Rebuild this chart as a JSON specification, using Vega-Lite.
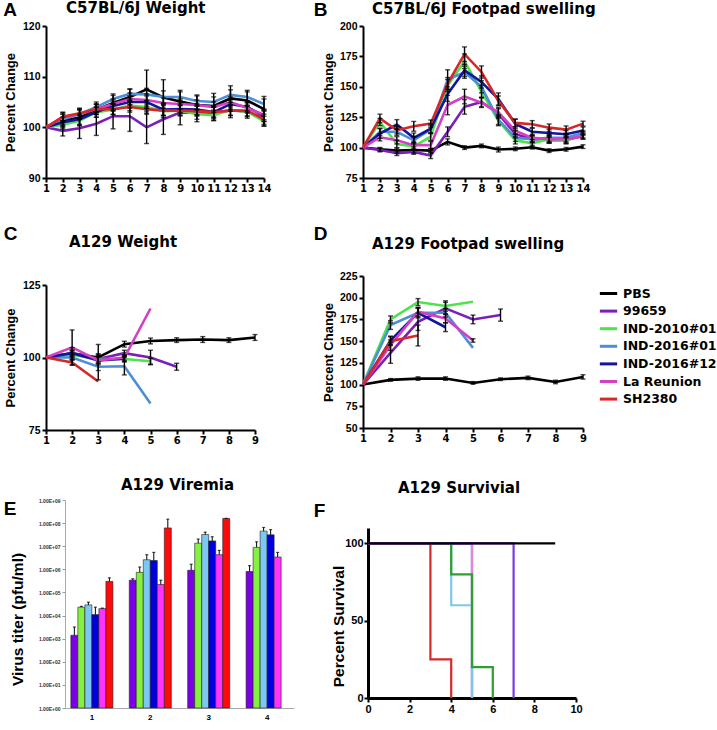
{
  "$schema": "https://vega.github.io/schema/vega-lite/v6.json",
  "background": "white",
  "padding": {"left": 2, "top": 0, "right": 0, "bottom": 0},
  "columns": 2,
  "spacing": {"row": 70, "column": 20},
  "align": "none",
  "bounds": "flush",
  "resolve": {"scale": {"color": "independent"}, "legend": {"color": "independent"}},
  "config": {
    "font": "Liberation Sans",
    "view": {"stroke": null},
    "axis": {"labelFont": "Liberation Sans", "titleFont": "Liberation Sans", "labelFontWeight": "bold", "titleFontWeight": "bold", "grid": false, "domainColor": "black", "tickColor": "black", "labelColor": "black", "titleColor": "black", "labelFlush": false, "labelOverlap": false},
    "title": {"font": "DejaVu Sans", "fontWeight": "bold", "fontSize": 15, "anchor": "start", "frame": "group", "color": "black"}
  },
  "datasets": {
    "A": [
      {"s":"PBS","d":1,"v":100,"e":0},{"s":"PBS","d":2,"v":101.4,"e":1.2},{"s":"PBS","d":3,"v":101.9,"e":1.5},{"s":"PBS","d":4,"v":103.5,"e":1},{"s":"PBS","d":5,"v":104.8,"e":1.5},{"s":"PBS","d":6,"v":106,"e":1.5},{"s":"PBS","d":7,"v":107.5,"e":3.8},{"s":"PBS","d":8,"v":105.9,"e":3.5},{"s":"PBS","d":9,"v":105.1,"e":2.2},{"s":"PBS","d":10,"v":104.4,"e":2},{"s":"PBS","d":11,"v":104.2,"e":2.5},{"s":"PBS","d":12,"v":105.7,"e":2.5},{"s":"PBS","d":13,"v":105.3,"e":2},{"s":"PBS","d":14,"v":103.6,"e":2.5},
      {"s":"99659","d":1,"v":100,"e":0},{"s":"99659","d":2,"v":99.3,"e":1},{"s":"99659","d":3,"v":99.8,"e":2},{"s":"99659","d":4,"v":100.7,"e":2.3},{"s":"99659","d":5,"v":102.2,"e":2.5},{"s":"99659","d":6,"v":102.2,"e":3},{"s":"99659","d":7,"v":100,"e":3.2},{"s":"99659","d":8,"v":101.6,"e":3},{"s":"99659","d":9,"v":102.9,"e":2.4},{"s":"99659","d":10,"v":102.9,"e":1.8},{"s":"99659","d":11,"v":102.8,"e":1.5},{"s":"99659","d":12,"v":103.4,"e":1.5},{"s":"99659","d":13,"v":103.1,"e":1.3},{"s":"99659","d":14,"v":101.8,"e":1.5},
      {"s":"IND-2010#01","d":1,"v":100,"e":0},{"s":"IND-2010#01","d":2,"v":100.5,"e":0.8},{"s":"IND-2010#01","d":3,"v":101.3,"e":1},{"s":"IND-2010#01","d":4,"v":103,"e":1},{"s":"IND-2010#01","d":5,"v":103.5,"e":1},{"s":"IND-2010#01","d":6,"v":104.3,"e":1},{"s":"IND-2010#01","d":7,"v":104,"e":1.2},{"s":"IND-2010#01","d":8,"v":103.2,"e":1.3},{"s":"IND-2010#01","d":9,"v":103.3,"e":1},{"s":"IND-2010#01","d":10,"v":102.6,"e":1},{"s":"IND-2010#01","d":11,"v":102.4,"e":1},{"s":"IND-2010#01","d":12,"v":103.4,"e":1},{"s":"IND-2010#01","d":13,"v":103.1,"e":1},{"s":"IND-2010#01","d":14,"v":101.2,"e":1},
      {"s":"IND-2016#01","d":1,"v":100,"e":0},{"s":"IND-2016#01","d":2,"v":101.6,"e":1},{"s":"IND-2016#01","d":3,"v":102.6,"e":1},{"s":"IND-2016#01","d":4,"v":104,"e":1},{"s":"IND-2016#01","d":5,"v":105.6,"e":1},{"s":"IND-2016#01","d":6,"v":106.6,"e":1},{"s":"IND-2016#01","d":7,"v":106.5,"e":1.2},{"s":"IND-2016#01","d":8,"v":106,"e":1.2},{"s":"IND-2016#01","d":9,"v":106,"e":1},{"s":"IND-2016#01","d":10,"v":105.2,"e":1},{"s":"IND-2016#01","d":11,"v":105,"e":1},{"s":"IND-2016#01","d":12,"v":106.4,"e":1},{"s":"IND-2016#01","d":13,"v":106,"e":1},{"s":"IND-2016#01","d":14,"v":104.6,"e":1},
      {"s":"IND-2016#12","d":1,"v":100,"e":0},{"s":"IND-2016#12","d":2,"v":101,"e":1},{"s":"IND-2016#12","d":3,"v":101.6,"e":1},{"s":"IND-2016#12","d":4,"v":103,"e":1},{"s":"IND-2016#12","d":5,"v":104.2,"e":1},{"s":"IND-2016#12","d":6,"v":105,"e":1.2},{"s":"IND-2016#12","d":7,"v":105,"e":1.2},{"s":"IND-2016#12","d":8,"v":103.5,"e":1.2},{"s":"IND-2016#12","d":9,"v":103.6,"e":1},{"s":"IND-2016#12","d":10,"v":103.5,"e":1},{"s":"IND-2016#12","d":11,"v":103,"e":1},{"s":"IND-2016#12","d":12,"v":104.6,"e":1},{"s":"IND-2016#12","d":13,"v":104,"e":1},{"s":"IND-2016#12","d":14,"v":102.2,"e":1},
      {"s":"La Reunion","d":1,"v":100,"e":0},{"s":"La Reunion","d":2,"v":102,"e":1},{"s":"La Reunion","d":3,"v":102.6,"e":1},{"s":"La Reunion","d":4,"v":103.6,"e":1},{"s":"La Reunion","d":5,"v":104.6,"e":1},{"s":"La Reunion","d":6,"v":105.6,"e":1.2},{"s":"La Reunion","d":7,"v":105.4,"e":1.2},{"s":"La Reunion","d":8,"v":104.8,"e":1},{"s":"La Reunion","d":9,"v":104.6,"e":1},{"s":"La Reunion","d":10,"v":104.4,"e":1},{"s":"La Reunion","d":11,"v":104,"e":1},{"s":"La Reunion","d":12,"v":105,"e":1},{"s":"La Reunion","d":13,"v":103.8,"e":1},{"s":"La Reunion","d":14,"v":102.5,"e":1},
      {"s":"SH2380","d":1,"v":100,"e":0},{"s":"SH2380","d":2,"v":102.1,"e":0.8},{"s":"SH2380","d":3,"v":102.8,"e":1},{"s":"SH2380","d":4,"v":103.6,"e":1},{"s":"SH2380","d":5,"v":103.6,"e":1},{"s":"SH2380","d":6,"v":104,"e":1},{"s":"SH2380","d":7,"v":103.6,"e":1},{"s":"SH2380","d":8,"v":103.3,"e":1},{"s":"SH2380","d":9,"v":103.3,"e":1},{"s":"SH2380","d":10,"v":103.2,"e":1},{"s":"SH2380","d":11,"v":103,"e":1},{"s":"SH2380","d":12,"v":103.3,"e":1},{"s":"SH2380","d":13,"v":103.3,"e":1},{"s":"SH2380","d":14,"v":101.6,"e":1}
    ],
    "B": [
      {"s":"PBS","d":1,"v":100,"e":0},{"s":"PBS","d":2,"v":98.6,"e":1.5},{"s":"PBS","d":3,"v":97.5,"e":2},{"s":"PBS","d":4,"v":98,"e":2.5},{"s":"PBS","d":5,"v":97.5,"e":2},{"s":"PBS","d":6,"v":104.7,"e":2.5},{"s":"PBS","d":7,"v":100,"e":1.5},{"s":"PBS","d":8,"v":101.4,"e":1.5},{"s":"PBS","d":9,"v":98.4,"e":2},{"s":"PBS","d":10,"v":99,"e":1.5},{"s":"PBS","d":11,"v":100.3,"e":1.5},{"s":"PBS","d":12,"v":97.5,"e":1.5},{"s":"PBS","d":13,"v":98.6,"e":1.5},{"s":"PBS","d":14,"v":100.8,"e":1.5},
      {"s":"99659","d":1,"v":100,"e":0},{"s":"99659","d":2,"v":98,"e":1.5},{"s":"99659","d":3,"v":95.5,"e":2},{"s":"99659","d":4,"v":96.5,"e":2},{"s":"99659","d":5,"v":93.5,"e":2.5},{"s":"99659","d":6,"v":113,"e":4},{"s":"99659","d":7,"v":133.5,"e":6},{"s":"99659","d":8,"v":137.5,"e":4},{"s":"99659","d":9,"v":128,"e":4},{"s":"99659","d":10,"v":111,"e":3},{"s":"99659","d":11,"v":107,"e":2.5},{"s":"99659","d":12,"v":106,"e":2.5},{"s":"99659","d":13,"v":106,"e":2.5},{"s":"99659","d":14,"v":110,"e":2},
      {"s":"IND-2010#01","d":1,"v":100,"e":0},{"s":"IND-2010#01","d":2,"v":121,"e":3},{"s":"IND-2010#01","d":3,"v":103,"e":3},{"s":"IND-2010#01","d":4,"v":101,"e":3},{"s":"IND-2010#01","d":5,"v":109,"e":3},{"s":"IND-2010#01","d":6,"v":151,"e":5},{"s":"IND-2010#01","d":7,"v":171,"e":6},{"s":"IND-2010#01","d":8,"v":146,"e":5},{"s":"IND-2010#01","d":9,"v":122,"e":4},{"s":"IND-2010#01","d":10,"v":106,"e":3},{"s":"IND-2010#01","d":11,"v":103.5,"e":3},{"s":"IND-2010#01","d":12,"v":107,"e":3},{"s":"IND-2010#01","d":13,"v":106,"e":3},{"s":"IND-2010#01","d":14,"v":110,"e":3},
      {"s":"IND-2016#01","d":1,"v":100,"e":0},{"s":"IND-2016#01","d":2,"v":113,"e":3},{"s":"IND-2016#01","d":3,"v":113,"e":3},{"s":"IND-2016#01","d":4,"v":106,"e":3},{"s":"IND-2016#01","d":5,"v":115,"e":3},{"s":"IND-2016#01","d":6,"v":156,"e":8},{"s":"IND-2016#01","d":7,"v":162,"e":5},{"s":"IND-2016#01","d":8,"v":150,"e":5},{"s":"IND-2016#01","d":9,"v":123,"e":4},{"s":"IND-2016#01","d":10,"v":108,"e":3},{"s":"IND-2016#01","d":11,"v":107,"e":3},{"s":"IND-2016#01","d":12,"v":108,"e":3},{"s":"IND-2016#01","d":13,"v":108,"e":3},{"s":"IND-2016#01","d":14,"v":112,"e":2},
      {"s":"IND-2016#12","d":1,"v":100,"e":0},{"s":"IND-2016#12","d":2,"v":111.5,"e":4},{"s":"IND-2016#12","d":3,"v":119,"e":4},{"s":"IND-2016#12","d":4,"v":108,"e":4},{"s":"IND-2016#12","d":5,"v":115.5,"e":4},{"s":"IND-2016#12","d":6,"v":144,"e":6},{"s":"IND-2016#12","d":7,"v":163.5,"e":5},{"s":"IND-2016#12","d":8,"v":154,"e":5},{"s":"IND-2016#12","d":9,"v":140,"e":5},{"s":"IND-2016#12","d":10,"v":119.5,"e":4},{"s":"IND-2016#12","d":11,"v":113,"e":3},{"s":"IND-2016#12","d":12,"v":112,"e":3},{"s":"IND-2016#12","d":13,"v":111,"e":3},{"s":"IND-2016#12","d":14,"v":114,"e":3},
      {"s":"La Reunion","d":1,"v":100,"e":0},{"s":"La Reunion","d":2,"v":108.5,"e":3},{"s":"La Reunion","d":3,"v":106,"e":3},{"s":"La Reunion","d":4,"v":102,"e":3},{"s":"La Reunion","d":5,"v":102,"e":3},{"s":"La Reunion","d":6,"v":135,"e":8},{"s":"La Reunion","d":7,"v":142,"e":6},{"s":"La Reunion","d":8,"v":137,"e":4},{"s":"La Reunion","d":9,"v":129,"e":4},{"s":"La Reunion","d":10,"v":114,"e":3},{"s":"La Reunion","d":11,"v":108,"e":3},{"s":"La Reunion","d":12,"v":107,"e":3},{"s":"La Reunion","d":13,"v":107,"e":3},{"s":"La Reunion","d":14,"v":109,"e":2},
      {"s":"SH2380","d":1,"v":100,"e":0},{"s":"SH2380","d":2,"v":124,"e":3.5},{"s":"SH2380","d":3,"v":114.3,"e":3},{"s":"SH2380","d":4,"v":117.5,"e":4},{"s":"SH2380","d":5,"v":119.7,"e":3},{"s":"SH2380","d":6,"v":152.6,"e":5},{"s":"SH2380","d":7,"v":176.8,"e":6},{"s":"SH2380","d":8,"v":162.2,"e":5},{"s":"SH2380","d":9,"v":138.4,"e":4},{"s":"SH2380","d":10,"v":120.3,"e":3},{"s":"SH2380","d":11,"v":119.2,"e":3},{"s":"SH2380","d":12,"v":116.4,"e":3},{"s":"SH2380","d":13,"v":114.8,"e":3},{"s":"SH2380","d":14,"v":119.7,"e":2}
    ],
    "C": [
      {"s":"PBS","d":1,"v":100,"e":0},{"s":"PBS","d":2,"v":101.4,"e":2},{"s":"PBS","d":3,"v":100,"e":4.5},{"s":"PBS","d":4,"v":104.6,"e":1},{"s":"PBS","d":5,"v":105.7,"e":1},{"s":"PBS","d":6,"v":106,"e":0.8},{"s":"PBS","d":7,"v":106.2,"e":1},{"s":"PBS","d":8,"v":106,"e":0.8},{"s":"PBS","d":9,"v":106.9,"e":1},
      {"s":"99659","d":1,"v":100,"e":0},{"s":"99659","d":2,"v":101.5,"e":1},{"s":"99659","d":3,"v":99.5,"e":1.5},{"s":"99659","d":4,"v":101.5,"e":1},{"s":"99659","d":5,"v":100,"e":2.5},{"s":"99659","d":6,"v":96.8,"e":1.2},
      {"s":"IND-2010#01","d":1,"v":100,"e":0},{"s":"IND-2010#01","d":2,"v":101,"e":1},{"s":"IND-2010#01","d":3,"v":99.5,"e":1},{"s":"IND-2010#01","d":4,"v":99.5,"e":1},{"s":"IND-2010#01","d":5,"v":98.7,"e":1},
      {"s":"IND-2016#01","d":1,"v":100,"e":0},{"s":"IND-2016#01","d":2,"v":100,"e":1},{"s":"IND-2016#01","d":3,"v":96.8,"e":4.5},{"s":"IND-2016#01","d":4,"v":97,"e":3},{"s":"IND-2016#01","d":5,"v":84.1,"e":0},
      {"s":"IND-2016#12","d":1,"v":100,"e":0},{"s":"IND-2016#12","d":2,"v":101.5,"e":1},{"s":"IND-2016#12","d":3,"v":99,"e":1},{"s":"IND-2016#12","d":4,"v":99.6,"e":1},
      {"s":"La Reunion","d":1,"v":100,"e":0},{"s":"La Reunion","d":2,"v":103.5,"e":6},{"s":"La Reunion","d":3,"v":99,"e":1.5},{"s":"La Reunion","d":4,"v":100,"e":1},{"s":"La Reunion","d":5,"v":116.9,"e":0},
      {"s":"SH2380","d":1,"v":100,"e":0},{"s":"SH2380","d":2,"v":98.3,"e":1},{"s":"SH2380","d":3,"v":91.7,"e":0}
    ],
    "D": [
      {"s":"PBS","d":1,"v":100,"e":0},{"s":"PBS","d":2,"v":105.4,"e":1.5},{"s":"PBS","d":3,"v":106.9,"e":2},{"s":"PBS","d":4,"v":106.9,"e":2},{"s":"PBS","d":5,"v":101.9,"e":1.5},{"s":"PBS","d":6,"v":106.2,"e":1.5},{"s":"PBS","d":7,"v":107.7,"e":2},{"s":"PBS","d":8,"v":103,"e":2},{"s":"PBS","d":9,"v":108.8,"e":2.5},
      {"s":"99659","d":1,"v":100,"e":0},{"s":"99659","d":2,"v":136.5,"e":12},{"s":"99659","d":3,"v":172.3,"e":10},{"s":"99659","d":4,"v":187.7,"e":7},{"s":"99659","d":5,"v":175,"e":5},{"s":"99659","d":6,"v":180,"e":7},
      {"s":"IND-2010#01","d":1,"v":100,"e":0},{"s":"IND-2010#01","d":2,"v":175,"e":4},{"s":"IND-2010#01","d":3,"v":195,"e":4},{"s":"IND-2010#01","d":4,"v":190.4,"e":6},{"s":"IND-2010#01","d":5,"v":195.4,"e":0},
      {"s":"IND-2016#01","d":1,"v":100,"e":0},{"s":"IND-2016#01","d":2,"v":168.5,"e":5},{"s":"IND-2016#01","d":3,"v":182.7,"e":5},{"s":"IND-2016#01","d":4,"v":182.7,"e":5},{"s":"IND-2016#01","d":5,"v":142.3,"e":0},
      {"s":"IND-2016#12","d":1,"v":100,"e":0},{"s":"IND-2016#12","d":2,"v":150.8,"e":5},{"s":"IND-2016#12","d":3,"v":182.7,"e":6},{"s":"IND-2016#12","d":4,"v":166,"e":5},
      {"s":"La Reunion","d":1,"v":100,"e":0},{"s":"La Reunion","d":2,"v":145.4,"e":6},{"s":"La Reunion","d":3,"v":183.8,"e":5},{"s":"La Reunion","d":4,"v":176.2,"e":5},{"s":"La Reunion","d":5,"v":150.8,"e":2},
      {"s":"SH2380","d":1,"v":100,"e":0},{"s":"SH2380","d":2,"v":150,"e":5},{"s":"SH2380","d":3,"v":156.5,"e":12}
    ],
    "E": [
      {"day":"1","s":"99659","v":1400,"hi":3200},{"day":"1","s":"IND-2010#01","v":23000,"hi":25000},{"day":"1","s":"IND-2016#01","v":29000,"hi":38000},{"day":"1","s":"IND-2016#12","v":11000,"hi":23000},{"day":"1","s":"La Reunion","v":20000,"hi":21000},{"day":"1","s":"SH2380","v":300000,"hi":430000},
      {"day":"2","s":"99659","v":340000,"hi":390000},{"day":"2","s":"IND-2010#01","v":740000,"hi":1260000},{"day":"2","s":"IND-2016#01","v":2600000,"hi":4300000},{"day":"2","s":"IND-2016#12","v":2400000,"hi":5400000},{"day":"2","s":"La Reunion","v":220000,"hi":340000},{"day":"2","s":"SH2380","v":62000000,"hi":148000000},
      {"day":"3","s":"99659","v":910000,"hi":1660000},{"day":"3","s":"IND-2010#01","v":13500000,"hi":20400000},{"day":"3","s":"IND-2016#01","v":32000000,"hi":40700000},{"day":"3","s":"IND-2016#12","v":17000000,"hi":25700000},{"day":"3","s":"La Reunion","v":4300000,"hi":6600000},{"day":"3","s":"SH2380","v":160000000,"hi":160000000},
      {"day":"4","s":"99659","v":800000,"hi":1450000},{"day":"4","s":"IND-2010#01","v":8900000,"hi":15500000},{"day":"4","s":"IND-2016#01","v":45000000,"hi":64600000},{"day":"4","s":"IND-2016#12","v":31000000,"hi":52500000},{"day":"4","s":"La Reunion","v":3400000,"hi":5400000}
    ],
    "F": [
      {"s":"IND-2016#12","t":0,"p":100},{"s":"IND-2016#12","t":5,"p":0},
      {"s":"La Reunion","t":0,"p":100},{"s":"La Reunion","t":5,"p":0},
      {"s":"IND-2016#01","t":0,"p":100},{"s":"IND-2016#01","t":4,"p":60},{"s":"IND-2016#01","t":5,"p":0},
      {"s":"IND-2010#01","t":0,"p":100},{"s":"IND-2010#01","t":4,"p":80},{"s":"IND-2010#01","t":5,"p":20},{"s":"IND-2010#01","t":6,"p":0},
      {"s":"SH2380","t":0,"p":100},{"s":"SH2380","t":3,"p":25},{"s":"SH2380","t":4,"p":0},
      {"s":"99659","t":0,"p":100},{"s":"99659","t":7,"p":0},
      {"s":"PBS","t":0,"p":100},{"s":"PBS","t":9,"p":100}
    ]
  },
  "concat": [
    {
      "width": 297, "height": 152,
      "title": {"text": "C57BL/6J Weight", "dx": 20, "offset": -15},
      "data": {"name": "A"},
      "encoding": {
        "x": {"field": "d", "type": "quantitative", "scale": {"domain": [1, 14], "range": [0, 218], "nice": false, "zero": false},
              "axis": {"values": [1,2,3,4,5,6,7,8,9,10,11,12,13,14], "format": "d", "title": "A", "titleX": -36.5, "titleY": -168.5, "titleAngle": 0, "titleFontSize": 19, "titleAlign": "center", "titleBaseline": "middle", "labelFont": "DejaVu Sans", "labelFontSize": 10, "tickSize": 4, "tickWidth": 2, "domainWidth": 2, "labelPadding": 1}},
        "y": {"field": "v", "type": "quantitative", "scale": {"domain": [90, 120], "nice": false, "zero": false},
              "axis": {"values": [90, 100, 110, 120], "title": "Percent Change", "titleFontSize": 13, "labelFontSize": 10.5, "tickSize": 4, "tickWidth": 2, "domainWidth": 2, "labelPadding": 2, "titlePadding": 5}}
      },
      "layer": [
        {
          "mark": {"type": "line", "strokeWidth": 2.6},
          "encoding": {
            "color": {"field": "s", "type": "nominal", "legend": null,
                      "scale": {"domain": ["PBS","99659","IND-2010#01","IND-2016#01","IND-2016#12","La Reunion","SH2380"], "range": ["#000000","#7a1fb8","#4de34d","#4d8fd6","#14149c","#d43fc4","#d62828"]}}
          }
        },
        {
          "transform": [{"filter": "datum.e > 0"}],
          "mark": {"type": "errorbar", "ticks": {"size": 5, "thickness": 1.4, "color": "black"}, "rule": {"strokeWidth": 1.4, "color": "black"}},
          "encoding": {"yError": {"field": "e"}}
        }
      ]
    },
    {
      "width": 220, "height": 152,
      "title": {"text": "C57BL/6J Footpad swelling", "dx": 9, "offset": -17},
      "data": {"name": "B"},
      "encoding": {
        "x": {"field": "d", "type": "quantitative", "scale": {"domain": [1, 14], "nice": false, "zero": false},
              "axis": {"values": [1,2,3,4,5,6,7,8,9,10,11,12,13,14], "format": "d", "title": "B", "titleX": -43, "titleY": -169, "titleAngle": 0, "titleFontSize": 19, "titleAlign": "center", "titleBaseline": "middle", "labelFont": "DejaVu Sans", "labelFontSize": 10, "tickSize": 4, "tickWidth": 2, "domainWidth": 2, "labelPadding": 1}},
        "y": {"field": "v", "type": "quantitative", "scale": {"domain": [75, 200], "nice": false, "zero": false},
              "axis": {"values": [75, 100, 125, 150, 175, 200], "title": "Percent Change", "titleFontSize": 13, "labelFontSize": 10.5, "tickSize": 4, "tickWidth": 2, "domainWidth": 2, "labelPadding": 2, "titlePadding": 4}}
      },
      "layer": [
        {
          "mark": {"type": "line", "strokeWidth": 2.6},
          "encoding": {
            "color": {"field": "s", "type": "nominal", "legend": null,
                      "scale": {"domain": ["PBS","99659","IND-2010#01","IND-2016#01","IND-2016#12","La Reunion","SH2380"], "range": ["#000000","#7a1fb8","#4de34d","#4d8fd6","#14149c","#d43fc4","#d62828"]}}
          }
        },
        {
          "transform": [{"filter": "datum.e > 0"}],
          "mark": {"type": "errorbar", "ticks": {"size": 5, "thickness": 1.4, "color": "black"}, "rule": {"strokeWidth": 1.4, "color": "black"}},
          "encoding": {"yError": {"field": "e"}}
        }
      ]
    },
    {
      "width": 297, "height": 182,
      "title": {"text": "A129 Weight", "dx": 23, "offset": -26},
      "data": {"name": "C"},
      "encoding": {
        "x": {"field": "d", "type": "quantitative", "scale": {"domain": [1, 9], "range": [0, 209], "nice": false, "zero": false},
              "axis": {"values": [1,2,3,4,5,6,7,8,9], "format": "d", "title": "C", "titleX": -36, "titleY": -197, "titleAngle": 0, "titleFontSize": 19, "titleAlign": "center", "titleBaseline": "middle", "labelFont": "DejaVu Sans", "labelFontSize": 10, "tickSize": 4, "tickWidth": 2, "domainWidth": 2, "labelPadding": 1}},
        "y": {"field": "v", "type": "quantitative", "scale": {"domain": [75, 125], "range": [182, 37], "nice": false, "zero": false},
              "axis": {"values": [75, 100, 125], "title": "Percent Change", "titleFontSize": 13, "labelFontSize": 10.5, "tickSize": 4, "tickWidth": 2, "domainWidth": 2, "labelPadding": 2, "titlePadding": 5}}
      },
      "layer": [
        {
          "mark": {"type": "line", "strokeWidth": 2.6},
          "encoding": {
            "color": {"field": "s", "type": "nominal", "legend": null,
                      "scale": {"domain": ["PBS","99659","IND-2010#01","IND-2016#01","IND-2016#12","La Reunion","SH2380"], "range": ["#000000","#7a1fb8","#4de34d","#4d8fd6","#14149c","#d43fc4","#d62828"]}}
          }
        },
        {
          "transform": [{"filter": "datum.e > 0"}],
          "mark": {"type": "errorbar", "ticks": {"size": 5, "thickness": 1.4, "color": "black"}, "rule": {"strokeWidth": 1.4, "color": "black"}},
          "encoding": {"yError": {"field": "e"}}
        }
      ]
    },
    {
      "width": 220, "height": 180,
      "title": {"text": "A129 Footpad swelling", "dx": 9, "offset": -28},
      "data": {"name": "D"},
      "encoding": {
        "x": {"field": "d", "type": "quantitative", "scale": {"domain": [1, 9], "nice": false, "zero": false},
              "axis": {"values": [1,2,3,4,5,6,7,8,9], "format": "d", "title": "D", "titleX": -43, "titleY": -195, "titleAngle": 0, "titleFontSize": 19, "titleAlign": "center", "titleBaseline": "middle", "labelFont": "DejaVu Sans", "labelFontSize": 10, "tickSize": 4, "tickWidth": 2, "domainWidth": 2, "labelPadding": 1}},
        "y": {"field": "v", "type": "quantitative", "scale": {"domain": [50, 225], "range": [180, 28], "nice": false, "zero": false},
              "axis": {"values": [50, 75, 100, 125, 150, 175, 200, 225], "title": "Percent Change", "titleFontSize": 13, "labelFontSize": 10.5, "tickSize": 4, "tickWidth": 2, "domainWidth": 2, "labelPadding": 2, "titlePadding": 4}}
      },
      "layer": [
        {
          "mark": {"type": "line", "strokeWidth": 2.6},
          "encoding": {
            "color": {"field": "s", "type": "nominal",
                      "scale": {"domain": ["PBS","99659","IND-2010#01","IND-2016#01","IND-2016#12","La Reunion","SH2380"], "range": ["#000000","#7a1fb8","#4de34d","#4d8fd6","#14149c","#d43fc4","#d62828"]},
                      "legend": {"orient": "none", "legendX": 235, "legendY": 35, "title": null, "labelFont": "DejaVu Sans", "labelFontSize": 12.5, "labelFontWeight": "bold", "labelColor": "black", "symbolType": "stroke", "symbolSize": 300, "symbolStrokeWidth": 3, "rowPadding": 0.6, "labelOffset": 4, "padding": 0}}
          }
        },
        {
          "transform": [{"filter": "datum.e > 0"}],
          "mark": {"type": "errorbar", "ticks": {"size": 5, "thickness": 1.4, "color": "black"}, "rule": {"strokeWidth": 1.4, "color": "black"}},
          "encoding": {"yError": {"field": "e"}}
        }
      ]
    },
    {
      "width": 297, "height": 208,
      "title": {"text": "A129 Viremia", "dx": 75, "offset": 5},
      "data": {"name": "E"},
      "encoding": {
        "x": {"field": "day", "type": "nominal", "scale": {"range": [19, 248], "paddingInner": 0.28, "paddingOuter": 0.1},
              "axis": {"title": "E", "titleX": -36.5, "titleY": -200, "titleAngle": 0, "titleFontSize": 19, "titleAlign": "center", "titleBaseline": "middle", "labelAngle": 0, "labelFontSize": 8, "labelPadding": 5, "ticks": false, "domainColor": "#aaaaaa", "domainWidth": 1}},
        "xOffset": {"field": "s", "type": "nominal", "scale": {"domain": ["99659","IND-2010#01","IND-2016#01","IND-2016#12","La Reunion","SH2380"], "paddingInner": 0}}
      },
      "layer": [
        {
          "mark": {"type": "bar", "stroke": "#222222", "strokeWidth": 0.6},
          "encoding": {
            "y": {"field": "v", "type": "quantitative", "scale": {"type": "log", "domain": [1, 1000000000], "nice": false},
                  "axis": {"values": [1, 10, 100, 1000, 10000, 100000, 1000000, 10000000, 100000000, 1000000000], "labelExpr": "'1.00E+0' + round(log(datum.value) / LN10)", "offset": -19, "labelFontSize": 5, "labelColor": "#333333", "tickSize": 3, "tickColor": "#999999", "domainColor": "#aaaaaa", "domainWidth": 1, "labelPadding": 2, "title": "Virus titer (pfu/ml)", "titleFontSize": 15.5, "titleX": -48, "titleY": 119, "titleAngle": 270, "titleAlign": "center", "titleBaseline": "middle"}},
            "y2": {"datum": 1},
            "color": {"field": "s", "type": "nominal", "legend": null,
                      "scale": {"domain": ["99659","IND-2010#01","IND-2016#01","IND-2016#12","La Reunion","SH2380"], "range": ["#7b00e6","#86f040","#7cc8f2","#0000dd","#ff33ff","#ff0a0a"]}}
          }
        },
        {
          "mark": {"type": "rule", "color": "black", "strokeWidth": 1},
          "encoding": {
            "y": {"field": "v", "type": "quantitative"},
            "y2": {"field": "hi"}
          }
        },
        {
          "mark": {"type": "tick", "orient": "horizontal", "color": "black", "size": 3, "thickness": 1.2},
          "encoding": {
            "y": {"field": "hi", "type": "quantitative"}
          }
        }
      ]
    },
    {
      "width": 220, "height": 198,
      "title": {"text": "A129 Survivial", "dx": 35, "offset": 4.5},
      "data": {"name": "F"},
      "mark": {"type": "line", "interpolate": "step-after", "strokeWidth": 2.2},
      "encoding": {
        "x": {"field": "t", "type": "quantitative", "scale": {"domain": [0, 10], "range": [5, 213], "nice": false, "zero": false},
              "axis": {"values": [0, 2, 4, 6, 8, 10], "format": "d", "title": "F", "titleX": -44, "titleY": -188, "titleAngle": 0, "titleFontSize": 19, "titleAlign": "center", "titleBaseline": "middle", "labelFontSize": 11, "tickSize": 4, "tickWidth": 2, "domainWidth": 3, "labelPadding": 1}},
        "y": {"field": "p", "type": "quantitative", "scale": {"domain": [0, 110], "range": [198, 28], "nice": false, "zero": false},
              "axis": {"values": [0, 50, 100], "offset": -5, "title": "Percent Survival", "titleFontSize": 15.5, "titleX": -29.5, "titleY": 126, "titleAngle": 270, "titleAlign": "center", "titleBaseline": "middle", "labelFontSize": 11, "tickSize": 4, "tickWidth": 2, "domainWidth": 3, "labelPadding": 1}},
        "color": {"field": "s", "type": "nominal", "legend": null,
                  "scale": {"domain": ["PBS","99659","IND-2010#01","IND-2016#01","IND-2016#12","La Reunion","SH2380"], "range": ["#000000","#7a3ae0","#2ea02e","#7ec8e8","#1a1a9e","#e087d8","#d42a2a"]}}
      }
    }
  ]
}
